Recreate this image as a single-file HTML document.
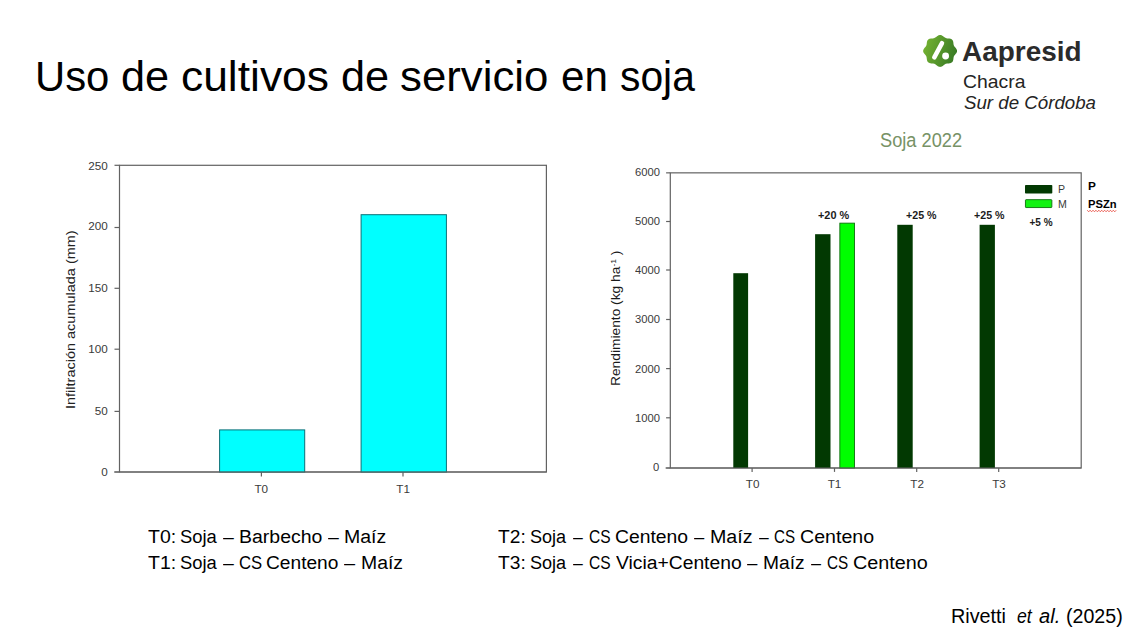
<!DOCTYPE html>
<html lang="es"><head><meta charset="utf-8"><title>Uso de cultivos de servicio en soja</title>
<style>
html,body{margin:0;padding:0;background:#fff;}
body{width:1137px;height:627px;position:relative;overflow:hidden;font-family:"Liberation Sans",sans-serif;}
.cv{position:absolute;left:0;top:0;}
.t,.r{position:absolute;white-space:nowrap;line-height:1;transform-origin:0 0;}
sup{font-size:62%;vertical-align:baseline;position:relative;top:-0.55em;line-height:0;}
</style></head><body>
<svg class="cv" width="1137" height="627" viewBox="0 0 1137 627">
<defs><linearGradient id="lg" x1="0" y1="0.35" x2="1" y2="0.65"><stop offset="0" stop-color="#74b231"/><stop offset="1" stop-color="#377925"/></linearGradient></defs>
<polygon points="957.05,50.95 957.01,50.43 956.88,49.92 956.68,49.42 956.41,48.93 956.09,48.47 955.74,48.03 955.38,47.61 955.02,47.21 954.69,46.82 954.38,46.42 954.12,46.02 953.91,45.61 953.75,45.18 953.63,44.72 953.54,44.24 953.48,43.73 953.42,43.19 953.36,42.64 953.28,42.09 953.15,41.54 952.98,41.02 952.74,40.52 952.45,40.07 952.09,39.67 951.66,39.33 951.19,39.06 950.67,38.85 950.11,38.69 949.54,38.59 948.96,38.52 948.39,38.47 947.83,38.44 947.29,38.39 946.77,38.32 946.28,38.21 945.82,38.06 945.38,37.86 944.95,37.61 944.52,37.32 944.10,36.99 943.66,36.64 943.21,36.29 942.74,35.94 942.25,35.63 941.73,35.37 941.20,35.17 940.65,35.04 940.10,35.00 939.55,35.04 939.00,35.17 938.47,35.37 937.95,35.63 937.46,35.94 936.99,36.29 936.54,36.64 936.10,36.99 935.68,37.32 935.25,37.61 934.82,37.86 934.38,38.06 933.92,38.21 933.43,38.32 932.91,38.39 932.38,38.44 931.81,38.47 931.24,38.52 930.66,38.59 930.09,38.69 929.53,38.85 929.01,39.06 928.54,39.33 928.11,39.67 927.75,40.07 927.46,40.52 927.22,41.02 927.05,41.54 926.92,42.09 926.84,42.64 926.78,43.19 926.72,43.73 926.66,44.24 926.57,44.72 926.45,45.18 926.29,45.61 926.08,46.02 925.82,46.42 925.51,46.82 925.18,47.21 924.82,47.61 924.46,48.03 924.11,48.47 923.79,48.93 923.52,49.42 923.32,49.92 923.19,50.43 923.15,50.95 923.19,51.47 923.32,51.98 923.52,52.48 923.79,52.97 924.11,53.43 924.46,53.87 924.82,54.29 925.18,54.69 925.51,55.08 925.82,55.48 926.08,55.88 926.29,56.29 926.45,56.72 926.57,57.18 926.66,57.66 926.72,58.17 926.78,58.71 926.84,59.26 926.92,59.81 927.05,60.36 927.22,60.88 927.46,61.38 927.75,61.83 928.11,62.23 928.54,62.57 929.01,62.84 929.53,63.05 930.09,63.21 930.66,63.31 931.24,63.38 931.81,63.43 932.38,63.46 932.91,63.51 933.43,63.58 933.92,63.69 934.38,63.84 934.82,64.04 935.25,64.29 935.68,64.58 936.10,64.91 936.54,65.26 936.99,65.61 937.46,65.96 937.95,66.27 938.47,66.53 939.00,66.73 939.55,66.86 940.10,66.90 940.65,66.86 941.20,66.73 941.73,66.53 942.25,66.27 942.74,65.96 943.21,65.61 943.66,65.26 944.10,64.91 944.52,64.58 944.95,64.29 945.38,64.04 945.82,63.84 946.28,63.69 946.77,63.58 947.29,63.51 947.83,63.46 948.39,63.43 948.96,63.38 949.54,63.31 950.11,63.21 950.67,63.05 951.19,62.84 951.66,62.57 952.09,62.23 952.45,61.83 952.74,61.38 952.98,60.88 953.15,60.36 953.28,59.81 953.36,59.26 953.42,58.71 953.48,58.18 953.54,57.66 953.63,57.18 953.75,56.72 953.91,56.29 954.12,55.88 954.38,55.48 954.69,55.08 955.02,54.69 955.38,54.29 955.74,53.87 956.09,53.43 956.41,52.97 956.68,52.48 956.88,51.98 957.01,51.47" fill="url(#lg)"/>
<line x1="942.0" y1="43.2" x2="934.3" y2="57.3" stroke="#fff" stroke-width="4.5" stroke-linecap="round"/>
<circle cx="945.6" cy="56.0" r="3.45" fill="#fff"/>
<rect x="119.5" y="165.3" width="426.90" height="306.70" fill="#fff" stroke="#626262" stroke-width="1.2"/>
<line x1="114.5" y1="165.30" x2="119.5" y2="165.30" stroke="#626262" stroke-width="1.2"/>
<line x1="114.5" y1="227.50" x2="119.5" y2="227.50" stroke="#626262" stroke-width="1.2"/>
<line x1="114.5" y1="288.30" x2="119.5" y2="288.30" stroke="#626262" stroke-width="1.2"/>
<line x1="114.5" y1="349.20" x2="119.5" y2="349.20" stroke="#626262" stroke-width="1.2"/>
<line x1="114.5" y1="411.40" x2="119.5" y2="411.40" stroke="#626262" stroke-width="1.2"/>
<line x1="114.5" y1="472.00" x2="119.5" y2="472.00" stroke="#626262" stroke-width="1.2"/>
<line x1="261.4" y1="472.0" x2="261.4" y2="476.4" stroke="#626262" stroke-width="1.2"/>
<line x1="403.0" y1="472.0" x2="403.0" y2="476.4" stroke="#626262" stroke-width="1.2"/>
<rect x="219.6" y="429.90" width="85.10" height="42.10" fill="#00ffff" stroke="#0c7077" stroke-width="1"/>
<rect x="361.1" y="214.70" width="85.30" height="257.30" fill="#00ffff" stroke="#0c7077" stroke-width="1"/>
<line x1="114.2" y1="472.0" x2="546.4" y2="472.0" stroke="#626262" stroke-width="1.2"/>
<rect x="670.3" y="172.85" width="410.90" height="295.15" fill="#fff" stroke="#626262" stroke-width="1.2"/>
<line x1="666.0999999999999" y1="172.85" x2="670.3" y2="172.85" stroke="#626262" stroke-width="1.2"/>
<line x1="666.0999999999999" y1="221.50" x2="670.3" y2="221.50" stroke="#626262" stroke-width="1.2"/>
<line x1="666.0999999999999" y1="270.00" x2="670.3" y2="270.00" stroke="#626262" stroke-width="1.2"/>
<line x1="666.0999999999999" y1="319.50" x2="670.3" y2="319.50" stroke="#626262" stroke-width="1.2"/>
<line x1="666.0999999999999" y1="368.60" x2="670.3" y2="368.60" stroke="#626262" stroke-width="1.2"/>
<line x1="666.0999999999999" y1="417.80" x2="670.3" y2="417.80" stroke="#626262" stroke-width="1.2"/>
<line x1="666.0999999999999" y1="468.00" x2="670.3" y2="468.00" stroke="#626262" stroke-width="1.2"/>
<line x1="752.1" y1="468.0" x2="752.1" y2="471.9" stroke="#626262" stroke-width="1.2"/>
<line x1="834.5" y1="468.0" x2="834.5" y2="471.9" stroke="#626262" stroke-width="1.2"/>
<line x1="916.7" y1="468.0" x2="916.7" y2="471.9" stroke="#626262" stroke-width="1.2"/>
<line x1="998.7" y1="468.0" x2="998.7" y2="471.9" stroke="#626262" stroke-width="1.2"/>
<rect x="733.3" y="273.20" width="14.80" height="194.80" fill="#023902"/>
<rect x="815.1" y="234.20" width="15.40" height="233.80" fill="#023902"/>
<rect x="839.85" y="223.15" width="14.60" height="244.85" fill="#00ff00" stroke="#0c6e0c" stroke-width="0.9"/>
<rect x="897.3" y="224.80" width="15.40" height="243.20" fill="#023902"/>
<rect x="979.6" y="224.80" width="15.30" height="243.20" fill="#023902"/>
<line x1="665.5" y1="468.0" x2="1081.2" y2="468.0" stroke="#626262" stroke-width="1.2"/>
<rect x="1025.0" y="184.9" width="27.3" height="8.6" rx="0.8" fill="#023902"/>
<rect x="1025.45" y="199.65" width="26.4" height="7.9" rx="0.6" fill="#12f212" stroke="#0c6e0c" stroke-width="0.9"/>
<polyline points="1087.2,210.2 1088.7,211.8 1090.1,210.2 1091.6,211.8 1093.0,210.2 1094.5,211.8 1095.9,210.2 1097.4,211.8 1098.8,210.2 1100.3,211.8 1101.7,210.2 1103.2,211.8 1104.6,210.2 1106.1,211.8 1107.5,210.2 1109.0,211.8 1110.4,210.2 1111.9,211.8 1113.3,210.2 1114.8,211.8 1116.2,210.2" fill="none" stroke="#e63a2e" stroke-width="0.75"/>
</svg>
<div class="t" style="left:34.50px;top:55.05px;font-size:43.3px;color:#000;transform:scaleX(0.9655);">Uso</div>
<div class="t" style="left:121.00px;top:55.05px;font-size:43.3px;color:#000;transform:scaleX(0.9990);">de</div>
<div class="t" style="left:180.71px;top:55.05px;font-size:43.3px;color:#000;transform:scaleX(1.0250);">cultivos</div>
<div class="t" style="left:341.00px;top:55.05px;font-size:43.3px;color:#000;transform:scaleX(0.9990);">de</div>
<div class="t" style="left:400.17px;top:55.05px;font-size:43.3px;color:#000;transform:scaleX(1.0110);">servicio</div>
<div class="t" style="left:560.50px;top:55.05px;font-size:43.3px;color:#000;transform:scaleX(0.9749);">en</div>
<div class="t" style="left:620.34px;top:55.05px;font-size:43.3px;color:#000;transform:scaleX(0.9420);">soja</div>
<div class="t" style="left:962.28px;top:37.03px;font-size:28.2px;color:#2b2b2b;font-weight:bold;transform:scaleX(0.9910);">Aapresid</div>
<div class="t" style="left:963.20px;top:74.42px;font-size:17.7px;color:#242424;transform:scaleX(1.0942);">Chacra</div>
<div class="t" style="left:963.66px;top:94.75px;font-size:17.9px;color:#242424;font-style:italic;transform:scaleX(1.0452);">Sur de C&oacute;rdoba</div>
<div class="t" style="left:880.20px;top:131.21px;font-size:19.6px;color:#779266;transform:scaleX(0.9303);">Soja 2022</div>
<div class="t" style="left:147.89px;top:526.55px;font-size:19.2px;color:#000;transform:scaleX(1.0158);">T0:</div>
<div class="t" style="left:180.32px;top:526.55px;font-size:19.2px;color:#000;transform:scaleX(0.9579);">Soja</div>
<div class="t" style="left:222.80px;top:526.55px;font-size:19.2px;color:#000;transform:scaleX(1.0140);">&ndash;</div>
<div class="t" style="left:238.97px;top:526.55px;font-size:19.2px;color:#000;transform:scaleX(1.0151);">Barbecho</div>
<div class="t" style="left:327.80px;top:526.55px;font-size:19.2px;color:#000;transform:scaleX(1.0140);">&ndash;</div>
<div class="t" style="left:344.06px;top:526.55px;font-size:19.2px;color:#000;transform:scaleX(1.0163);">Ma&iacute;z</div>
<div class="t" style="left:147.89px;top:553.35px;font-size:19.2px;color:#000;transform:scaleX(1.0158);">T1:</div>
<div class="t" style="left:180.32px;top:553.35px;font-size:19.2px;color:#000;transform:scaleX(0.9579);">Soja</div>
<div class="t" style="left:222.80px;top:553.35px;font-size:19.2px;color:#000;transform:scaleX(1.0140);">&ndash;</div>
<div class="t" style="left:238.83px;top:553.35px;font-size:19.2px;color:#000;transform:scaleX(0.8702);">CS</div>
<div class="t" style="left:266.35px;top:553.35px;font-size:19.2px;color:#000;transform:scaleX(0.9985);">Centeno</div>
<div class="t" style="left:343.94px;top:553.35px;font-size:19.2px;color:#000;transform:scaleX(1.0378);">&ndash;</div>
<div class="t" style="left:361.12px;top:553.35px;font-size:19.2px;color:#000;transform:scaleX(1.0110);">Ma&iacute;z</div>
<div class="t" style="left:498.46px;top:526.55px;font-size:19.2px;color:#000;transform:scaleX(1.0009);">T2:</div>
<div class="t" style="left:530.03px;top:526.55px;font-size:19.2px;color:#000;transform:scaleX(0.9412);">Soja</div>
<div class="t" style="left:572.99px;top:526.55px;font-size:19.2px;color:#000;transform:scaleX(0.9143);">&ndash;</div>
<div class="t" style="left:588.84px;top:526.55px;font-size:19.2px;color:#000;transform:scaleX(0.8099);">CS</div>
<div class="t" style="left:614.74px;top:526.55px;font-size:19.2px;color:#000;transform:scaleX(1.0080);">Centeno</div>
<div class="t" style="left:694.14px;top:526.55px;font-size:19.2px;color:#000;transform:scaleX(0.9608);">&ndash;</div>
<div class="t" style="left:710.07px;top:526.55px;font-size:19.2px;color:#000;transform:scaleX(1.0235);">Ma&iacute;z</div>
<div class="t" style="left:758.55px;top:526.55px;font-size:19.2px;color:#000;transform:scaleX(0.9095);">&ndash;</div>
<div class="t" style="left:774.16px;top:526.55px;font-size:19.2px;color:#000;transform:scaleX(0.7897);">CS</div>
<div class="t" style="left:800.33px;top:526.55px;font-size:19.2px;color:#000;transform:scaleX(1.0209);">Centeno</div>
<div class="t" style="left:498.46px;top:553.35px;font-size:19.2px;color:#000;transform:scaleX(1.0009);">T3:</div>
<div class="t" style="left:530.03px;top:553.35px;font-size:19.2px;color:#000;transform:scaleX(0.9412);">Soja</div>
<div class="t" style="left:572.99px;top:553.35px;font-size:19.2px;color:#000;transform:scaleX(0.9143);">&ndash;</div>
<div class="t" style="left:588.84px;top:553.35px;font-size:19.2px;color:#000;transform:scaleX(0.8099);">CS</div>
<div class="t" style="left:615.71px;top:553.35px;font-size:19.2px;color:#000;transform:scaleX(1.0054);">Vicia+Centeno</div>
<div class="t" style="left:747.38px;top:553.35px;font-size:19.2px;color:#000;transform:scaleX(0.9725);">&ndash;</div>
<div class="t" style="left:762.99px;top:553.35px;font-size:19.2px;color:#000;transform:scaleX(1.0010);">Ma&iacute;z</div>
<div class="t" style="left:811.04px;top:553.35px;font-size:19.2px;color:#000;transform:scaleX(0.9363);">&ndash;</div>
<div class="t" style="left:827.16px;top:553.35px;font-size:19.2px;color:#000;transform:scaleX(0.7955);">CS</div>
<div class="t" style="left:852.72px;top:553.35px;font-size:19.2px;color:#000;transform:scaleX(1.0322);">Centeno</div>
<div class="t" style="left:950.67px;top:607.38px;font-size:19.4px;color:#000;transform:scaleX(1.0212);">Rivetti</div>
<div class="t" style="left:1017.00px;top:607.38px;font-size:19.4px;color:#000;transform:scaleX(0.9115);"><i>et</i></div>
<div class="t" style="left:1039.01px;top:607.38px;font-size:19.4px;color:#000;transform:scaleX(1.0385);"><i>al.</i></div>
<div class="t" style="left:1065.99px;top:607.38px;font-size:19.4px;color:#000;transform:scaleX(1.0109);">(2025)</div>
<div class="t" style="left:88.21px;top:160.28px;font-size:11.7px;color:#3a3a3a;">250</div>
<div class="t" style="left:88.21px;top:220.28px;font-size:11.7px;color:#3a3a3a;">200</div>
<div class="t" style="left:88.21px;top:281.88px;font-size:11.7px;color:#3a3a3a;">150</div>
<div class="t" style="left:88.21px;top:343.33px;font-size:11.7px;color:#3a3a3a;">100</div>
<div class="t" style="left:94.82px;top:404.88px;font-size:11.7px;color:#3a3a3a;">50</div>
<div class="t" style="left:101.17px;top:466.38px;font-size:11.7px;color:#3a3a3a;">0</div>
<div class="t" style="left:254.48px;top:483.00px;font-size:11.7px;color:#3a3a3a;">T0</div>
<div class="t" style="left:396.33px;top:483.00px;font-size:11.7px;color:#3a3a3a;">T1</div>
<div class="t" style="left:634.66px;top:166.08px;font-size:11.7px;color:#3a3a3a;transform:scaleX(0.9600);">6000</div>
<div class="t" style="left:634.66px;top:215.25px;font-size:11.7px;color:#3a3a3a;transform:scaleX(0.9600);">5000</div>
<div class="t" style="left:634.67px;top:264.42px;font-size:11.7px;color:#3a3a3a;transform:scaleX(0.9600);">4000</div>
<div class="t" style="left:634.67px;top:312.59px;font-size:11.7px;color:#3a3a3a;transform:scaleX(0.9600);">3000</div>
<div class="t" style="left:634.66px;top:362.76px;font-size:11.7px;color:#3a3a3a;transform:scaleX(0.9600);">2000</div>
<div class="t" style="left:634.67px;top:411.93px;font-size:11.7px;color:#3a3a3a;transform:scaleX(0.9600);">1000</div>
<div class="t" style="left:653.01px;top:461.10px;font-size:11.7px;color:#3a3a3a;transform:scaleX(0.9600);">0</div>
<div class="t" style="left:745.79px;top:478.00px;font-size:11.7px;color:#3a3a3a;">T0</div>
<div class="t" style="left:827.67px;top:478.00px;font-size:11.7px;color:#3a3a3a;">T1</div>
<div class="t" style="left:910.36px;top:478.00px;font-size:11.7px;color:#3a3a3a;">T2</div>
<div class="t" style="left:992.14px;top:478.00px;font-size:11.7px;color:#3a3a3a;">T3</div>
<div class="t" style="left:818.19px;top:210.53px;font-size:10px;color:#1c1c1c;font-weight:bold;transform:scaleX(1.0898);">+20 %</div>
<div class="t" style="left:905.92px;top:211.34px;font-size:10px;color:#1c1c1c;font-weight:bold;transform:scaleX(1.0654);">+25 %</div>
<div class="t" style="left:973.92px;top:211.34px;font-size:10px;color:#1c1c1c;font-weight:bold;transform:scaleX(1.0654);">+25 %</div>
<div class="t" style="left:1029.50px;top:217.53px;font-size:10px;color:#1c1c1c;font-weight:bold;">+5 %</div>
<div class="t" style="left:1058.00px;top:184.03px;font-size:10.6px;color:#3a3a3a;">P</div>
<div class="t" style="left:1057.90px;top:198.93px;font-size:10.6px;color:#3a3a3a;">M</div>
<div class="t" style="left:1087.97px;top:181.01px;font-size:11.8px;color:#000;font-weight:bold;">P</div>
<div class="t" style="left:1088.19px;top:199.01px;font-size:11.8px;color:#000;font-weight:bold;transform:scaleX(0.9490);">PSZn</div>
<div class="r" style="left:65.00px;top:408.72px;font-size:12.2px;color:#222;transform:rotate(-90deg) scaleX(1.1884);">Infiltraci&oacute;n acumulada (mm)</div>
<div class="r" style="left:610.00px;top:386.02px;font-size:12.2px;color:#1a1a1a;transform:rotate(-90deg) scaleX(1.1296);">Rendimiento (kg ha<sup>-1</sup> )</div>
</body></html>
